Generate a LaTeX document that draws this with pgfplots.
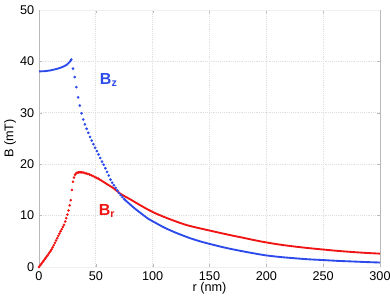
\documentclass[border=0pt]{standalone}
\usepackage{pgfplots}
\pgfplotsset{compat=1.18}
\usepackage{fontspec}
\setmainfont{Liberation Sans}
\definecolor{bzblue}{RGB}{45,75,235}
\definecolor{brred}{RGB}{240,20,20}
\begin{document}
\begin{tikzpicture}
\path[use as bounding box] (-29.25pt,-25.5pt) rectangle (263.25pt,200.25pt);
\begin{axis}[
  at={(0,0)}, anchor=south west,
  scale only axis, width=255.75pt, height=192.75pt,
  xmin=0, xmax=300, ymin=0, ymax=50,
  xtick={0,50,...,300}, ytick={0,10,...,50},
  grid=major,
  major grid style={gray!25, densely dotted, line width=0.5pt},
  separate axis lines,
  x axis line style={gray!12},
  y axis line style={gray!55},
  tick style={gray!55},
  major tick length=2.5pt,
  tick align=inside,
  ticklabel style={font=\fontsize{9.5}{11}\selectfont},
  /pgf/number format/assume math mode=true,
  xlabel={r (nm)}, ylabel={B (mT)},
  every axis x label/.style={at={(axis description cs:0.5,-0.082)}, anchor=center, font=\fontsize{9.5}{11}\selectfont},
  every axis y label/.style={at={(axis description cs:-0.085,0.5)}, rotate=90, anchor=center, font=\fontsize{9.5}{11}\selectfont},
  clip=false,
]
% Bz continuous part (inside the disk)
\addplot[bzblue, line width=1.4pt, smooth] coordinates {
(0,38.06) (5,38.1) (10,38.25) (14,38.45) (18,38.7) (22,39.05) (25,39.45) (27,39.9) (28.4,40.35)
};
% Bz dotted (steep) part
\addplot[bzblue, only marks, mark=*, mark size=0.8pt] coordinates {
(28.4,40.35) (29.9,38.6) (31.4,36.95) (32.9,35.0) (34.4,33.0) (35.9,31.4) (37.4,29.9)
(38.9,28.7) (40.4,27.75) (41.9,26.9) (43.4,26.1) (44.9,25.3) (46.4,24.6) (47.9,23.9)
(49.4,23.2) (50.9,22.55) (52.4,21.9) (53.9,21.2) (55.4,20.5) (56.9,19.9) (58.4,19.2)
(59.9,18.5) (61.4,17.8) (62.9,17.0) (64.4,16.4) (65.9,15.9) (67.4,15.4) (68.9,14.9)
(70.4,14.4) (71.9,14.0) (73.4,13.6) (75,13.2)
};
% Bz tail
\addplot[bzblue, line width=1.4pt, smooth] coordinates {
(75,13.2) (80,12.2) (85,11.25) (90,10.4) (96,9.4) (100,8.9) (110,7.7) (120,6.7)
(133,5.6) (141.6,5.0) (150,4.5) (160,3.95) (168,3.55) (177,3.15) (190,2.62) (200,2.25)
(212,1.95) (225,1.7) (237,1.5) (250,1.35) (262,1.2) (275,1.08) (287,0.97) (300,0.87)
};
% Br rising and dotted part
\addplot[brred, only marks, mark=*, mark size=0.75pt] coordinates {
(0,0) (1,0.3) (2,0.6) (3,0.9) (4,1.2) (5,1.5) (6,1.8) (7,2.1) (8,2.4) (9,2.75) (10,3.05)
(11,3.4) (12,3.8) (13,4.25) (14,4.7) (15,5.15) (16,5.6) (17,6.05) (18,6.5) (19,6.95)
(20,7.35) (21,7.8) (22,8.2) (23,8.85) (24,9.5) (25,10.2) (26,11.0) (27,12.0) (27.9,13.0)
(29.0,15.0) (29.9,16.6) (30.8,17.4) (31.7,17.95) (32.6,18.2) (33.5,18.35) (34.5,18.4)
(35.5,18.45) (36.5,18.45) (37.5,18.42) (38.7,18.4) (40,18.3) (41.5,18.2) (43,18.1)
(44.5,18.0) (46,17.85) (47.5,17.7) (49,17.5) (50.5,17.35) (52,17.2)
};
% Br tail
\addplot[brred, line width=1.4pt, smooth] coordinates {
(52,17.2) (55,16.8) (60,16.1) (65,15.4) (72,14.2) (80,13.2) (90,11.9) (100,10.7)
(110,9.75) (120,8.9) (130,8.15) (140,7.6) (150,7.1) (160,6.6) (170,6.12) (180,5.67)
(190,5.2) (200,4.78) (212,4.35) (225,3.98) (237,3.68) (250,3.4) (262,3.15) (275,2.93)
(287,2.75) (300,2.6)
};
\node[bzblue, font=\fontsize{12}{14}\selectfont\bfseries, anchor=west] at (axis cs:49.5,36.4) {B\textsubscript{z}};
\node[brred, font=\fontsize{12}{14}\selectfont\bfseries, anchor=west] at (axis cs:48.5,10.9) {B\textsubscript{r}};
\end{axis}
\end{tikzpicture}
\end{document}
